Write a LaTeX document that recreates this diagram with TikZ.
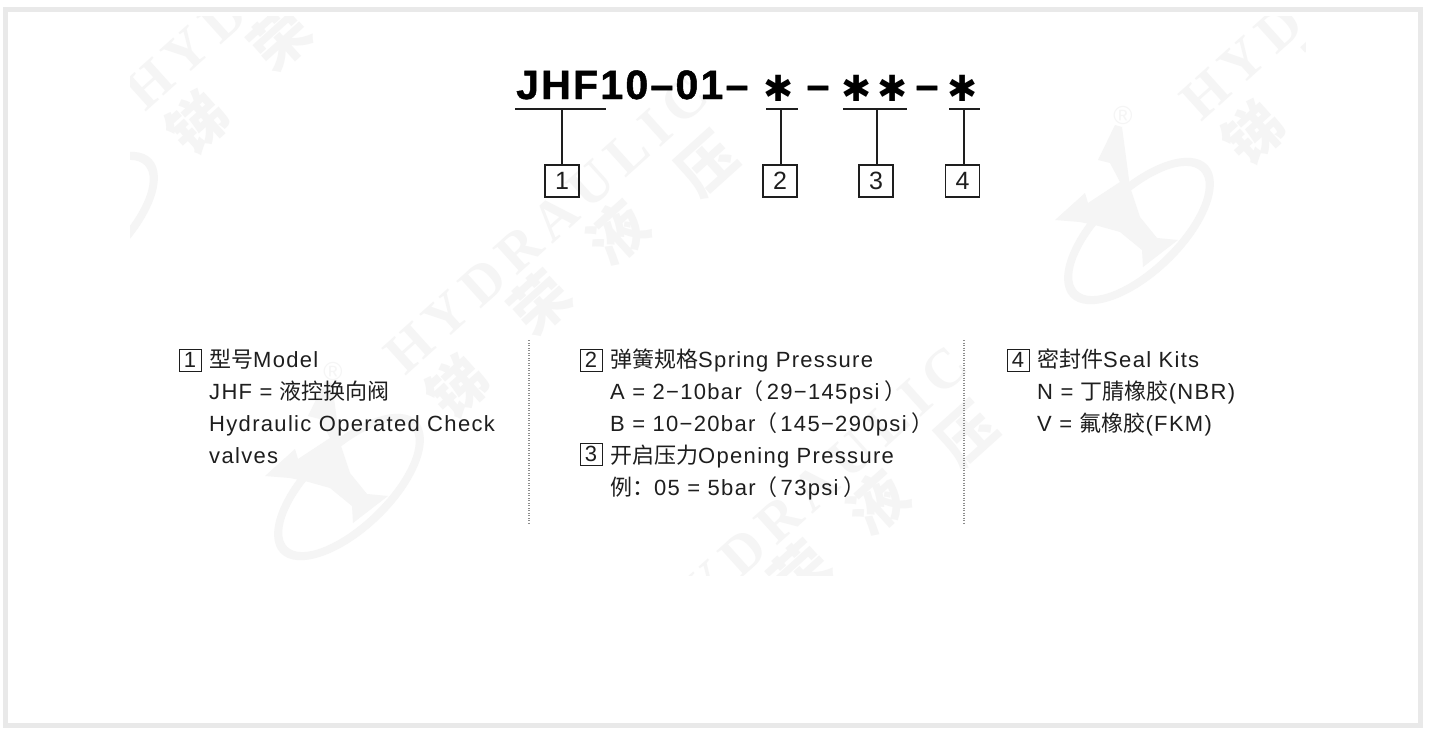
\documentclass[tikz,border=0pt]{standalone}
\usepackage{fontspec}
\setmainfont{Liberation Sans}
\newfontfamily\bodyfont[LetterSpace=6]{Liberation Sans}
\newfontfamily\titlefont[LetterSpace=5.5,BoldFeatures={FakeBold=1.2}]{Liberation Sans}
\newfontfamily\starfont{DejaVu Sans}
\newfontfamily\markfont[LetterSpace=15]{Liberation Serif}
\newfontfamily\cjk{Noto Sans CJK SC}
\newcommand\zh[1]{{\cjk #1}}
\definecolor{wm}{HTML}{F5F5F5}
\definecolor{framec}{HTML}{E9E9E9}
\definecolor{ink}{HTML}{1E1E1E}
\tikzset{
  titletext/.style={inner sep=0,anchor=base west,text=black,font=\titlefont\bfseries\fontsize{41}{44}\selectfont},
  startext/.style={inner sep=0,anchor=center,text=black,font=\starfont\fontsize{36}{38}\selectfont},
  bodytext/.style={inner sep=0,anchor=base west,text=ink,font=\bodyfont\fontsize{22}{24}\selectfont},
  bigbox/.style={draw=ink,line width=1.4pt,minimum width=34pt,minimum height=32pt,inner sep=0,text=ink,font=\fontsize{25}{26}\selectfont},
  smallbox/.style={draw=ink,line width=1pt,minimum width=22pt,minimum height=22pt,inner sep=0,text=ink,font=\fontsize{22}{22}\selectfont},
  leader/.style={draw=ink,line width=1.4pt},
  sep/.style={draw=black!45,line width=1.2pt,dash pattern=on 1pt off 1.5pt},
  wmlatin/.style={inner sep=0,text=wm,rotate=42,anchor=base west,font=\markfont\bfseries\fontsize{56}{60}\selectfont},
  wmzh/.style={inner sep=0,text=wm,rotate=42,font=\cjk\bfseries\fontsize{58}{60}\selectfont}
}
% one watermark tile: name prefix, then position of the letter H
\newcommand\wmtile[3]{%
  \begin{scope}[shift={(#2,#3)}]
    \node[wmlatin] (#1latin) at (5,22) {HYDRAULIC};
    \node[wmzh] (#1a) at (57,32) {锑};
    \node[wmzh] (#1b) at (140,-52) {荣};
    \node[wmzh] (#1c) at (217,-122) {液};
    \node[wmzh] (#1d) at (307,-190) {压};
  \end{scope}}
\newcommand\wmlogo[3]{%
  \begin{scope}[shift={(#2,#3)}]
    \fill[wm,even odd rule,rotate=44] (0,0) ellipse [x radius=95,y radius=44] (0,0) ellipse [x radius=86,y radius=36];
    \fill[wm] (-24,-106) -- (-17,-104) -- (-9,-44) -- (1,-14) -- (18,7) -- (39,9) -- (4,36) -- (3,19) -- (-19,1) -- (-44,-6) -- (-59,-9) -- (-84,-11) -- (-54,-38) -- (-51,-28) -- (-19,-49) -- (-29,-68) -- (-41,-71) -- cycle;
    \node[inner sep=0,text=wm,font=\fontsize{26}{26}\selectfont] (#1r) at (-16,-115) {®};
  \end{scope}}
\begin{document}
\begin{tikzpicture}[x=1pt,y=-1pt]
\useasboundingbox (0,0) rectangle (1435,736);
\fill[white] (0,0) rectangle (1435,736);
% watermark
\begin{scope}
  \clip (130,16) rectangle (1305,575);
  \wmtile{wa}{140}{91}
  \wmtile{wb}{1196}{101}
  \wmtile{wc}{400}{355}
  \wmtile{wd}{660}{625}
  \wmlogo{la}{83}{225}
  \wmlogo{lb}{1139}{231}
  \wmlogo{lc}{349}{487}
\end{scope}
% frame
\draw[framec,line width=5pt] (5,9.5) rectangle (1420,725.5);
% title
\node[titletext] (title) at (516,99) {JHF10–01–};
\node[startext] (s1) at (779,88) {✱};
\node[titletext,anchor=base] (d1) at (818,99) {–};
\node[startext] (s2) at (857,88) {✱};
\node[startext] (s3) at (893,88) {✱};
\node[titletext,anchor=base] (d2) at (927,99) {–};
\node[startext] (s4) at (963,88) {✱};
% number boxes
\node[bigbox] (b1) at (562,181) {1};
\node[bigbox] (b2) at (780,181) {2};
\node[bigbox] (b3) at (876,181) {3};
\node[bigbox] (b4) at (962.5,181) {4};
% underlines and stems
\coordinate (u1l) at (515,109); \coordinate (u1r) at (606,109); \coordinate (u1m) at (562,109);
\coordinate (u2l) at (766,109); \coordinate (u2r) at (798,109); \coordinate (u2m) at (781,109);
\coordinate (u3l) at (843,109); \coordinate (u3r) at (907,109); \coordinate (u3m) at (877,109);
\coordinate (u4l) at (949,109); \coordinate (u4r) at (980,109); \coordinate (u4m) at (964,109);
\draw[leader] (u1l) -- (u1r);
\draw[leader] (u2l) -- (u2r);
\draw[leader] (u3l) -- (u3r);
\draw[leader] (u4l) -- (u4r);
\draw[leader] (u1m) -- (u1m |- b1.north);
\draw[leader] (u2m) -- (u2m |- b2.north);
\draw[leader] (u3m) -- (u3m |- b3.north);
\draw[leader] (u4m) -- (u4m |- b4.north);
% legend column 1
\node[smallbox] (k1) at (190,360) {1};
\node[bodytext] (t1a) at (209,367) {\zh{型号}Model};
\node[bodytext] (t1b) at (209,399) {JHF = \zh{液控换向阀}};
\node[bodytext] (t1c) at (209,431) {Hydraulic Operated Check};
\node[bodytext] (t1d) at (209,463) {valves};
% legend column 2
\node[smallbox] (k2) at (591,360) {2};
\node[bodytext] (t2a) at (610,367) {\zh{弹簧规格}Spring Pressure};
\node[bodytext] (t2b) at (610,399) {A = 2−10bar\zh{（}\hspace{3pt}29−145psi\hspace{5pt}\zh{）}};
\node[bodytext] (t2c) at (610,431) {B = 10−20bar\zh{（}\hspace{3pt}145−290psi\hspace{5pt}\zh{）}};
\node[smallbox] (k3) at (591,454) {3};
\node[bodytext] (t3a) at (610,463) {\zh{开启压力}Opening Pressure};
\node[bodytext] (t3b) at (610,495) {\zh{例：}05 = 5bar\zh{（}\hspace{3pt}73psi\hspace{5pt}\zh{）}};
% legend column 3
\node[smallbox] (k4) at (1018,360) {4};
\node[bodytext] (t4a) at (1037,367) {\zh{密封件}Seal Kits};
\node[bodytext] (t4b) at (1037,399) {N = \zh{丁腈橡胶}(NBR)};
\node[bodytext] (t4c) at (1037,431) {V = \zh{氟橡胶}(FKM)};
% separators
\coordinate (s1t) at (529,340); \coordinate (s1b) at (529,524);
\coordinate (s2t) at (964,340); \coordinate (s2b) at (964,524);
\draw[sep] (s1t) -- (s1b);
\draw[sep] (s2t) -- (s2b);
\end{tikzpicture}
\end{document}
